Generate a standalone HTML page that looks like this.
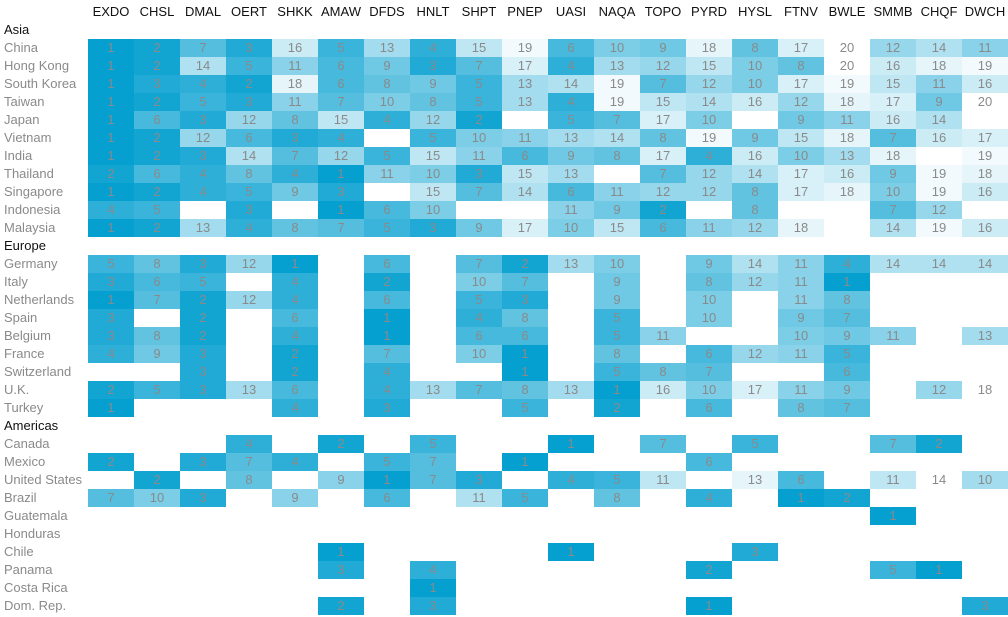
<!DOCTYPE html>
<html><head><meta charset="utf-8"><style>
body{margin:0;width:1008px;height:617px;background:#fff;position:relative;overflow:hidden;font-family:"Liberation Sans",sans-serif;}
#hdr{position:absolute;left:88px;top:4px;display:flex;}
#hdr div{width:46px;text-align:center;font-size:13px;color:#111;line-height:16px;}
#lab{position:absolute;left:4px;top:21px;}
#lab div{height:18px;line-height:18px;font-size:13px;color:#8a8a8a;white-space:nowrap;}
#lab div.h{color:#111;}
table{position:absolute;left:88px;top:39px;border-collapse:collapse;table-layout:fixed;width:920px;}
td{width:46px;height:18px;padding:0;text-align:center;font-size:13px;color:#8a8a8a;line-height:18px;}
tr{height:18px;}
.c1{background:#06a0d0}.c2{background:#13a5d2}.c3{background:#20aad5}.c4{background:#2dafd7}.c5{background:#3ab4da}
.c6{background:#47b9dc}.c7{background:#55bedf}.c8{background:#62c3e1}.c9{background:#6fc8e4}.c10{background:#7ccde6}
.c11{background:#89d2e9}.c12{background:#96d7eb}.c13{background:#a3dcee}.c14{background:#b0e1f0}.c15{background:#bee6f3}
.c16{background:#cbebf5}.c17{background:#d8f0f8}.c18{background:#e5f5fa}.c19{background:#f2fafd}.c20{background:#fff}
</style></head><body>
<div id="hdr"><div>EXDO</div><div>CHSL</div><div>DMAL</div><div>OERT</div><div>SHKK</div><div>AMAW</div><div>DFDS</div><div>HNLT</div><div>SHPT</div><div>PNEP</div><div>UASI</div><div>NAQA</div><div>TOPO</div><div>PYRD</div><div>HYSL</div><div>FTNV</div><div>BWLE</div><div>SMMB</div><div>CHQF</div><div>DWCH</div></div>
<div id="lab">
<div class="h">Asia</div><div>China</div><div>Hong Kong</div><div>South Korea</div><div>Taiwan</div><div>Japan</div><div>Vietnam</div><div>India</div><div>Thailand</div><div>Singapore</div><div>Indonesia</div><div>Malaysia</div>
<div class="h">Europe</div><div>Germany</div><div>Italy</div><div>Netherlands</div><div>Spain</div><div>Belgium</div><div>France</div><div>Switzerland</div><div>U.K.</div><div>Turkey</div>
<div class="h">Americas</div><div>Canada</div><div>Mexico</div><div>United States</div><div>Brazil</div><div>Guatemala</div><div>Honduras</div><div>Chile</div><div>Panama</div><div>Costa Rica</div><div>Dom. Rep.</div>
</div>
<table>
<tr><td class=c1>1</td><td class=c2>2</td><td class=c7>7</td><td class=c3>3</td><td class=c16>16</td><td class=c5>5</td><td class=c13>13</td><td class=c4>4</td><td class=c15>15</td><td class=c19>19</td><td class=c6>6</td><td class=c10>10</td><td class=c9>9</td><td class=c18>18</td><td class=c8>8</td><td class=c17>17</td><td class=c20>20</td><td class=c12>12</td><td class=c14>14</td><td class=c11>11</td></tr>
<tr><td class=c1>1</td><td class=c2>2</td><td class=c14>14</td><td class=c5>5</td><td class=c11>11</td><td class=c6>6</td><td class=c9>9</td><td class=c3>3</td><td class=c7>7</td><td class=c17>17</td><td class=c4>4</td><td class=c13>13</td><td class=c12>12</td><td class=c15>15</td><td class=c10>10</td><td class=c8>8</td><td class=c20>20</td><td class=c16>16</td><td class=c18>18</td><td class=c19>19</td></tr>
<tr><td class=c1>1</td><td class=c3>3</td><td class=c4>4</td><td class=c2>2</td><td class=c18>18</td><td class=c6>6</td><td class=c8>8</td><td class=c9>9</td><td class=c5>5</td><td class=c13>13</td><td class=c14>14</td><td class=c19>19</td><td class=c7>7</td><td class=c12>12</td><td class=c10>10</td><td class=c17>17</td><td class=c19>19</td><td class=c15>15</td><td class=c11>11</td><td class=c16>16</td></tr>
<tr><td class=c1>1</td><td class=c2>2</td><td class=c5>5</td><td class=c3>3</td><td class=c11>11</td><td class=c7>7</td><td class=c10>10</td><td class=c8>8</td><td class=c5>5</td><td class=c13>13</td><td class=c4>4</td><td class=c19>19</td><td class=c15>15</td><td class=c14>14</td><td class=c16>16</td><td class=c12>12</td><td class=c18>18</td><td class=c17>17</td><td class=c9>9</td><td class=c20>20</td></tr>
<tr><td class=c1>1</td><td class=c6>6</td><td class=c3>3</td><td class=c12>12</td><td class=c8>8</td><td class=c15>15</td><td class=c4>4</td><td class=c12>12</td><td class=c2>2</td><td></td><td class=c5>5</td><td class=c7>7</td><td class=c17>17</td><td class=c10>10</td><td></td><td class=c9>9</td><td class=c11>11</td><td class=c16>16</td><td class=c14>14</td><td></td></tr>
<tr><td class=c1>1</td><td class=c2>2</td><td class=c12>12</td><td class=c6>6</td><td class=c3>3</td><td class=c4>4</td><td></td><td class=c5>5</td><td class=c10>10</td><td class=c11>11</td><td class=c13>13</td><td class=c14>14</td><td class=c8>8</td><td class=c19>19</td><td class=c9>9</td><td class=c15>15</td><td class=c18>18</td><td class=c7>7</td><td class=c16>16</td><td class=c17>17</td></tr>
<tr><td class=c1>1</td><td class=c2>2</td><td class=c3>3</td><td class=c14>14</td><td class=c7>7</td><td class=c12>12</td><td class=c5>5</td><td class=c15>15</td><td class=c11>11</td><td class=c6>6</td><td class=c9>9</td><td class=c8>8</td><td class=c17>17</td><td class=c4>4</td><td class=c16>16</td><td class=c10>10</td><td class=c13>13</td><td class=c18>18</td><td></td><td class=c19>19</td></tr>
<tr><td class=c2>2</td><td class=c6>6</td><td class=c4>4</td><td class=c8>8</td><td class=c4>4</td><td class=c1>1</td><td class=c11>11</td><td class=c10>10</td><td class=c3>3</td><td class=c15>15</td><td class=c13>13</td><td></td><td class=c7>7</td><td class=c12>12</td><td class=c14>14</td><td class=c17>17</td><td class=c16>16</td><td class=c9>9</td><td class=c19>19</td><td class=c18>18</td></tr>
<tr><td class=c1>1</td><td class=c2>2</td><td class=c4>4</td><td class=c5>5</td><td class=c9>9</td><td class=c3>3</td><td></td><td class=c15>15</td><td class=c7>7</td><td class=c14>14</td><td class=c6>6</td><td class=c11>11</td><td class=c12>12</td><td class=c12>12</td><td class=c8>8</td><td class=c17>17</td><td class=c18>18</td><td class=c10>10</td><td class=c19>19</td><td class=c16>16</td></tr>
<tr><td class=c4>4</td><td class=c5>5</td><td></td><td class=c3>3</td><td></td><td class=c1>1</td><td class=c6>6</td><td class=c10>10</td><td></td><td></td><td class=c11>11</td><td class=c9>9</td><td class=c2>2</td><td></td><td class=c8>8</td><td></td><td></td><td class=c7>7</td><td class=c12>12</td><td></td></tr>
<tr><td class=c1>1</td><td class=c2>2</td><td class=c13>13</td><td class=c4>4</td><td class=c8>8</td><td class=c7>7</td><td class=c5>5</td><td class=c3>3</td><td class=c9>9</td><td class=c17>17</td><td class=c10>10</td><td class=c15>15</td><td class=c6>6</td><td class=c11>11</td><td class=c12>12</td><td class=c18>18</td><td></td><td class=c14>14</td><td class=c19>19</td><td class=c16>16</td></tr>
<tr><td colspan=20></td></tr>
<tr><td class=c5>5</td><td class=c8>8</td><td class=c3>3</td><td class=c12>12</td><td class=c1>1</td><td></td><td class=c6>6</td><td></td><td class=c7>7</td><td class=c2>2</td><td class=c13>13</td><td class=c10>10</td><td></td><td class=c9>9</td><td class=c14>14</td><td class=c11>11</td><td class=c4>4</td><td class=c14>14</td><td class=c14>14</td><td class=c14>14</td></tr>
<tr><td class=c3>3</td><td class=c6>6</td><td class=c5>5</td><td></td><td class=c4>4</td><td></td><td class=c2>2</td><td></td><td class=c10>10</td><td class=c7>7</td><td></td><td class=c9>9</td><td></td><td class=c8>8</td><td class=c12>12</td><td class=c11>11</td><td class=c1>1</td><td></td><td></td><td></td></tr>
<tr><td class=c1>1</td><td class=c7>7</td><td class=c2>2</td><td class=c12>12</td><td class=c4>4</td><td></td><td class=c6>6</td><td></td><td class=c5>5</td><td class=c3>3</td><td></td><td class=c9>9</td><td></td><td class=c10>10</td><td></td><td class=c11>11</td><td class=c8>8</td><td></td><td></td><td></td></tr>
<tr><td class=c3>3</td><td></td><td class=c2>2</td><td></td><td class=c6>6</td><td></td><td class=c1>1</td><td></td><td class=c4>4</td><td class=c8>8</td><td></td><td class=c5>5</td><td></td><td class=c10>10</td><td></td><td class=c9>9</td><td class=c7>7</td><td></td><td></td><td></td></tr>
<tr><td class=c3>3</td><td class=c8>8</td><td class=c2>2</td><td></td><td class=c4>4</td><td></td><td class=c1>1</td><td></td><td class=c6>6</td><td class=c6>6</td><td></td><td class=c5>5</td><td class=c11>11</td><td></td><td></td><td class=c10>10</td><td class=c9>9</td><td class=c11>11</td><td></td><td class=c13>13</td></tr>
<tr><td class=c4>4</td><td class=c9>9</td><td class=c3>3</td><td></td><td class=c2>2</td><td></td><td class=c7>7</td><td></td><td class=c10>10</td><td class=c1>1</td><td></td><td class=c8>8</td><td></td><td class=c6>6</td><td class=c12>12</td><td class=c11>11</td><td class=c5>5</td><td></td><td></td><td></td></tr>
<tr><td></td><td></td><td class=c3>3</td><td></td><td class=c2>2</td><td></td><td class=c4>4</td><td></td><td></td><td class=c1>1</td><td></td><td class=c5>5</td><td class=c8>8</td><td class=c7>7</td><td></td><td></td><td class=c6>6</td><td></td><td></td><td></td></tr>
<tr><td class=c2>2</td><td class=c5>5</td><td class=c3>3</td><td class=c13>13</td><td class=c6>6</td><td></td><td class=c4>4</td><td class=c13>13</td><td class=c7>7</td><td class=c8>8</td><td class=c13>13</td><td class=c1>1</td><td class=c16>16</td><td class=c10>10</td><td class=c17>17</td><td class=c11>11</td><td class=c9>9</td><td></td><td class=c12>12</td><td class=c20>18</td></tr>
<tr><td class=c1>1</td><td></td><td></td><td></td><td class=c4>4</td><td></td><td class=c3>3</td><td></td><td></td><td class=c5>5</td><td></td><td class=c2>2</td><td></td><td class=c6>6</td><td></td><td class=c8>8</td><td class=c7>7</td><td></td><td></td><td></td></tr>
<tr><td colspan=20></td></tr>
<tr><td></td><td></td><td></td><td class=c4>4</td><td></td><td class=c2>2</td><td></td><td class=c5>5</td><td></td><td></td><td class=c1>1</td><td></td><td class=c7>7</td><td></td><td class=c5>5</td><td></td><td></td><td class=c7>7</td><td class=c2>2</td><td></td></tr>
<tr><td class=c2>2</td><td></td><td class=c3>3</td><td class=c7>7</td><td class=c4>4</td><td></td><td class=c5>5</td><td class=c7>7</td><td></td><td class=c1>1</td><td></td><td></td><td></td><td class=c6>6</td><td></td><td></td><td></td><td></td><td></td><td></td></tr>
<tr><td></td><td class=c2>2</td><td></td><td class=c8>8</td><td></td><td class=c11>9</td><td class=c1>1</td><td class=c7>7</td><td class=c3>3</td><td></td><td class=c4>4</td><td class=c5>5</td><td class=c15>11</td><td></td><td class=c18>13</td><td class=c6>6</td><td></td><td class=c15>11</td><td class=c20>14</td><td class=c13>10</td></tr>
<tr><td class=c7>7</td><td class=c10>10</td><td class=c3>3</td><td></td><td class=c11>9</td><td></td><td class=c6>6</td><td></td><td class=c14>11</td><td class=c5>5</td><td></td><td class=c8>8</td><td></td><td class=c4>4</td><td></td><td class=c1>1</td><td class=c2>2</td><td></td><td></td><td></td></tr>
<tr><td></td><td></td><td></td><td></td><td></td><td></td><td></td><td></td><td></td><td></td><td></td><td></td><td></td><td></td><td></td><td></td><td></td><td class=c1>1</td><td></td><td></td></tr>
<tr><td colspan=20></td></tr>
<tr><td></td><td></td><td></td><td></td><td></td><td class=c1>1</td><td></td><td></td><td></td><td></td><td class=c1>1</td><td></td><td></td><td></td><td class=c3>3</td><td></td><td></td><td></td><td></td><td></td></tr>
<tr><td></td><td></td><td></td><td></td><td></td><td class=c3>3</td><td></td><td class=c4>4</td><td></td><td></td><td></td><td></td><td></td><td class=c2>2</td><td></td><td></td><td></td><td class=c5>5</td><td class=c1>1</td><td></td></tr>
<tr><td></td><td></td><td></td><td></td><td></td><td></td><td></td><td class=c1>1</td><td></td><td></td><td></td><td></td><td></td><td></td><td></td><td></td><td></td><td></td><td></td><td></td></tr>
<tr><td></td><td></td><td></td><td></td><td></td><td class=c2>2</td><td></td><td class=c3>3</td><td></td><td></td><td></td><td></td><td></td><td class=c1>1</td><td></td><td></td><td></td><td></td><td></td><td class=c3>3</td></tr>
</table>
</body></html>
